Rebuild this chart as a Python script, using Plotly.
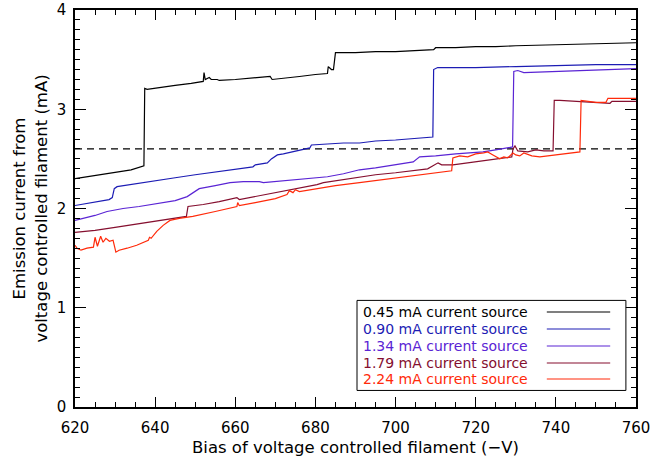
import plotly.graph_objects as go

# ---------------- data ----------------
bias_045 = [620, 625, 630, 634, 637.2, 637.4, 638, 641, 645, 649, 652, 652.2, 652.5, 653.5, 654,
            655.5, 656, 660, 665, 668.7, 669.2, 672, 676, 680, 683, 683.2, 684, 684.5, 685, 690,
            695, 700, 705, 709.5, 710, 715, 720, 725, 730, 740, 750, 760]
curr_045 = [2.30, 2.33, 2.36, 2.39, 2.43, 3.21, 3.20, 3.22, 3.24, 3.26, 3.28, 3.37, 3.30, 3.32, 3.30,
            3.30, 3.29, 3.30, 3.32, 3.33, 3.30, 3.31, 3.33, 3.35, 3.36, 3.43, 3.40, 3.40, 3.57, 3.57,
            3.58, 3.58, 3.59, 3.60, 3.62, 3.62, 3.63, 3.63, 3.64, 3.65, 3.66, 3.67]

bias_090 = [620, 623, 626, 628.5, 629.3, 629.8, 630.5, 635, 640, 645, 650, 655, 660, 664.4, 665,
            668, 669, 670.5, 672, 675, 678.6, 679, 683, 687, 691, 695, 700, 705, 709.3, 709.5,
            710.5, 715, 720, 730, 740, 750, 760]
curr_090 = [2.03, 2.05, 2.07, 2.09, 2.11, 2.20, 2.22, 2.25, 2.28, 2.31, 2.34, 2.37, 2.40, 2.42, 2.44,
            2.46, 2.50, 2.54, 2.55, 2.58, 2.61, 2.64, 2.65, 2.66, 2.66, 2.68, 2.69, 2.71, 2.72, 3.40,
            3.42, 3.42, 3.42, 3.43, 3.44, 3.45, 3.45]

bias_134 = [620, 622, 625, 628, 632, 636, 641, 645, 648, 650, 651, 655, 658.7, 662, 666, 667, 672,
            678.6, 683, 687, 691, 695, 700, 704.4, 706, 710, 715, 721.8, 725, 727.8, 729.2, 729.5,
            730.5, 732, 740, 750, 760]
curr_134 = [1.88, 1.90, 1.93, 1.97, 2.00, 2.02, 2.05, 2.08, 2.12, 2.17, 2.20, 2.23, 2.26, 2.27, 2.27,
            2.26, 2.28, 2.30, 2.32, 2.35, 2.39, 2.41, 2.44, 2.47, 2.52, 2.53, 2.55, 2.57, 2.59, 2.61,
            2.62, 3.38, 3.39, 3.37, 3.38, 3.39, 3.41]

bias_179 = [620, 625, 630, 635, 640, 645, 647.8, 648.2, 652, 656, 660.4, 661, 665, 670, 675, 680.4,
            682, 685, 691, 695, 700, 705.6, 708, 710.6, 711.5, 714.3, 718, 722, 726, 729, 729.3,
            729.8, 730.5, 733, 735, 737, 739.3, 739.6, 741, 745, 750, 753.5, 754, 760]
curr_179 = [1.76, 1.78, 1.81, 1.84, 1.87, 1.90, 1.92, 2.02, 2.04, 2.07, 2.11, 2.09, 2.12, 2.16, 2.20,
            2.24, 2.26, 2.28, 2.32, 2.34, 2.36, 2.39, 2.40, 2.46, 2.44, 2.44, 2.46, 2.48, 2.50, 2.52,
            2.60, 2.63, 2.58, 2.57, 2.59, 2.58, 2.58, 3.09, 3.09, 3.08, 3.07, 3.06, 3.08, 3.08]

bias_224 = [620, 620.5, 621.5, 623, 624.6, 625, 625.6, 626, 626.4, 627, 627.7, 628.6, 629.5, 630.2,
            631, 633, 635.4, 638.3, 638.6, 639, 640.4, 642, 643.7, 646, 649.4, 655, 660.4, 660.6,
            661, 665, 670, 672.9, 673.5, 674.4, 675, 676, 680, 685, 691, 695, 700, 705, 710, 714,
            714.3, 716, 718, 720, 722, 723, 724.3, 726, 727, 728, 729.3, 730, 731, 732, 734, 736,
            738, 742, 746, 746.3, 748, 750, 752.5, 753, 760]
curr_224 = [1.63, 1.60, 1.58, 1.60, 1.61, 1.71, 1.62, 1.66, 1.72, 1.66, 1.70, 1.67, 1.68, 1.56,
            1.58, 1.60, 1.63, 1.68, 1.71, 1.70, 1.77, 1.83, 1.88, 1.90, 1.92, 1.97, 2.02, 2.06,
            2.03, 2.06, 2.10, 2.14, 2.18, 2.16, 2.19, 2.17, 2.20, 2.23, 2.26, 2.28, 2.31, 2.33, 2.36, 2.38,
            2.51, 2.53, 2.52, 2.55, 2.56, 2.57, 2.54, 2.50, 2.52, 2.51, 2.56, 2.54, 2.53, 2.56, 2.53, 2.52,
            2.53, 2.55, 2.57, 3.09, 3.08, 3.07, 3.07, 3.11, 3.11]

threshold_x = [620, 760]
threshold_y = [2.6, 2.6]

labels = ["0.45 mA current source", "0.90 mA current source", "1.34 mA current source",
          "1.79 mA current source", "2.24 mA current source"]
colors = ["#000000", "#1c1cb4", "#5a24d4", "#850f2f", "#ff2a0a"]

x_ticks = [620, 640, 660, 680, 700, 720, 740, 760]
y_ticks = [0, 1, 2, 3, 4]

series = [(bias_045, curr_045), (bias_090, curr_090), (bias_134, curr_134),
          (bias_179, curr_179), (bias_224, curr_224)]

FONT = "DejaVu Sans"

fig = go.Figure()
fig.add_trace(go.Scatter(x=threshold_x, y=threshold_y, mode="lines",
                         line=dict(color="black", width=1.2, dash="7px,5px"),
                         showlegend=False, hoverinfo="skip"))
for (xs, ys), lab, col in zip(series, labels, colors):
    fig.add_trace(go.Scatter(x=xs, y=ys, mode="lines", name=lab,
                             line=dict(color=col, width=1.2), showlegend=False))

# custom legend (text left, line sample right) in paper coordinates
row_y = [0.2393, 0.1965, 0.1537, 0.1108, 0.0705]
shapes = [dict(type="rect", xref="paper", yref="paper", x0=0.5027, x1=0.982, y0=0.0417, y1=0.2685,
               line=dict(color="black", width=1), fillcolor="white", layer="above")]
annotations = []
for lab, col, yy in zip(labels, colors, row_y):
    annotations.append(dict(xref="paper", yref="paper", x=0.509, y=yy, text=lab, showarrow=False,
                            xanchor="left", yanchor="middle",
                            font=dict(family=FONT, size=14, color=col)))
    shapes.append(dict(type="line", xref="paper", yref="paper", x0=0.841, x1=0.954, y0=yy, y1=yy,
                       line=dict(color=col, width=1.2), layer="above"))

axis_common = dict(showline=True, linecolor="black", linewidth=1.5, mirror="ticks",
                   ticks="inside", tickcolor="black", showgrid=False, zeroline=False,
                   automargin=False, ticklabeloverflow="allow",
                   tickfont=dict(family=FONT, size=15, color="black"))

fig.update_layout(
    width=664, height=461,
    margin=dict(l=75, r=28, t=10, b=54),
    paper_bgcolor="white", plot_bgcolor="white",
    font=dict(family=FONT, color="black"),
    shapes=shapes, annotations=annotations,
    xaxis=dict(range=[620, 760], tickvals=x_ticks, ticklen=10, tickwidth=1,
               minor=dict(dtick=5, tick0=620, ticklen=5, ticks="inside", tickcolor="black"),
               title=dict(text="Bias of voltage controlled filament (−V)",
                          font=dict(family=FONT, size=16.5), standoff=6),
               ticklabelstandoff=6,
               **axis_common),
    yaxis=dict(range=[0, 4], tickvals=y_ticks, ticklen=11, tickwidth=1,
               minor=dict(dtick=0.1, tick0=0, ticklen=5.5, ticks="inside", tickcolor="black"),
               title=dict(text="Emission current from<br>voltage controlled filament (mA)",
                          font=dict(family=FONT, size=16.5), standoff=5),
               ticklabelstandoff=4,
               **axis_common),
)

# remove the browser's default 8px body margin so the figure fills the window exactly
fig.write_html("out.html", config={"displayModeBar": False},
               post_script="document.body.style.margin='0px';")
